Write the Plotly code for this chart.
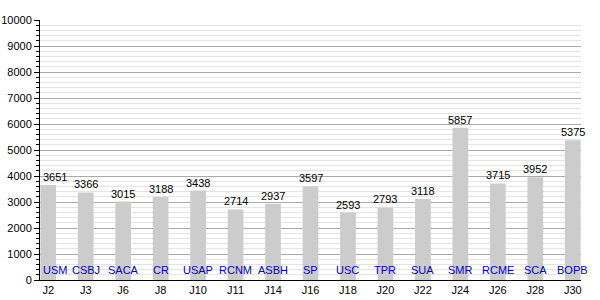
import plotly.graph_objects as go

categories = ["J2", "J3", "J6", "J8", "J10", "J11", "J14", "J16", "J18", "J20", "J22", "J24", "J26", "J28", "J30"]
values = [3651, 3366, 3015, 3188, 3438, 2714, 2937, 3597, 2593, 2793, 3118, 5857, 3715, 3952, 5375]
labels = ["USM", "CSBJ", "SACA", "CR", "USAP", "RCNM", "ASBH", "SP", "USC", "TPR", "SUA", "SMR", "RCME", "SCA", "BOPB"]

font_family = "Liberation Sans, Arial, sans-serif"

fig = go.Figure()
fig.add_trace(go.Bar(
    x=categories, y=values, width=0.42,
    marker=dict(color="#cccccc", line=dict(width=0)),
    hoverinfo="x+y",
))

for i, (c, v, lab) in enumerate(zip(categories, values, labels)):
    xs = 7 if i == 0 else 0
    fig.add_annotation(x=c, y=v, yref="y", text=str(v), showarrow=False,
                       yanchor="bottom", yshift=0, xshift=xs,
                       font=dict(color="black", size=11, family=font_family))
    fig.add_annotation(x=c, y=0, yref="y", text=lab, showarrow=False,
                       yanchor="bottom", yshift=2, xshift=xs,
                       font=dict(color="#0000cc", size=11, family=font_family))

fig.update_layout(
    width=600, height=300,
    margin=dict(l=40, r=19, t=20, b=20),
    paper_bgcolor="white", plot_bgcolor="white",
    showlegend=False,
    font=dict(family=font_family, size=11, color="black"),
)
fig.update_xaxes(
    type="category", range=[-0.22, 14.22], automargin=False,
    showline=True, linecolor="black", linewidth=1,
    ticks="", showgrid=False,
    tickfont=dict(size=11, color="black"),
)
fig.update_yaxes(
    range=[0, 10000], dtick=1000, tickformat="d", automargin=False,
    showline=True, linecolor="black", linewidth=1,
    ticks="outside", ticklen=5, tickcolor="black",
    showgrid=True, gridcolor="#aaaaaa", gridwidth=1,
    minor=dict(dtick=200, showgrid=True, gridcolor="#e4e4e4", ticks="outside", ticklen=3, tickcolor="black"),
    tickfont=dict(size=11, color="black"),
    zeroline=False,
)

fig.write_html("out.html")
